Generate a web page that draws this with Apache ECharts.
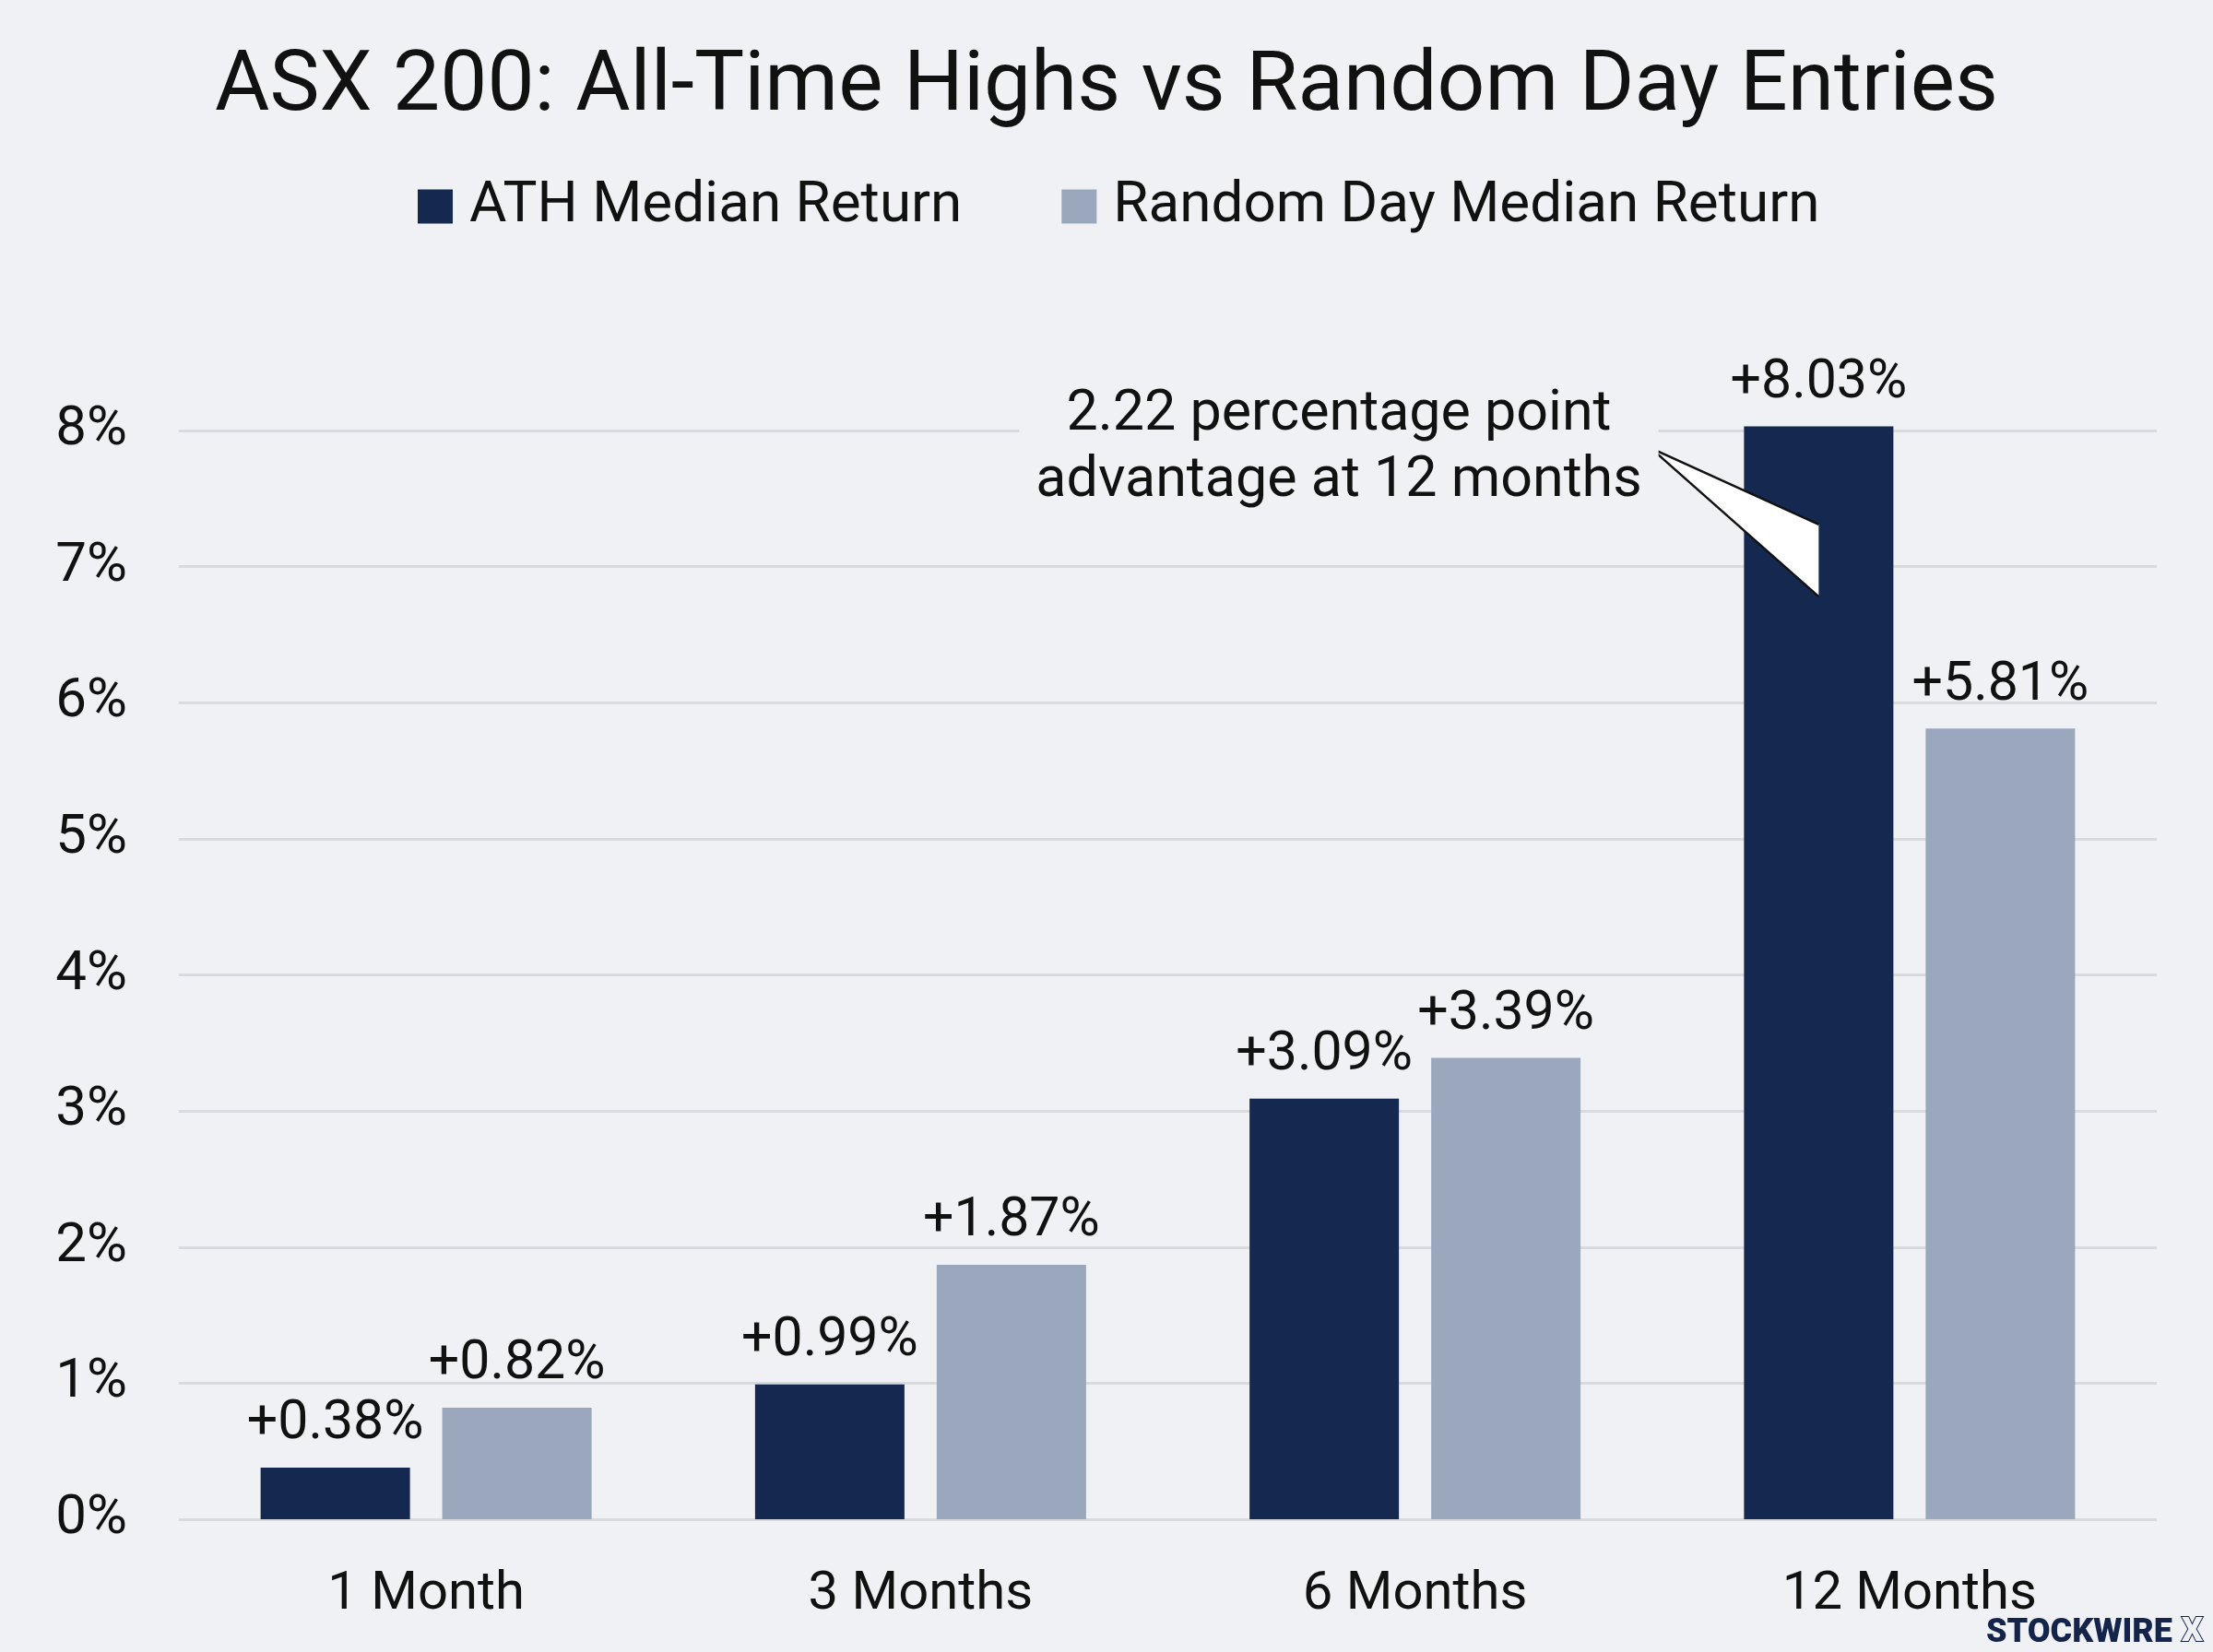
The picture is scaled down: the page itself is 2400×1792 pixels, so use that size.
<!DOCTYPE html>
<html>
<head>
<meta charset="utf-8">
<script src="https://cdn.jsdelivr.net/npm/echarts@6/dist/echarts.min.js"></script>
<style>
html,body{margin:0;padding:0;background:#f0f1f4;}
#chart{width:2400px;height:1792px;}
</style>
</head>
<body>
<div id="chart"></div>
<script>
const categories = ['1 Month', '3 Months', '6 Months', '12 Months'];
const athValues = [0.38, 0.99, 3.09, 8.03];
const randomValues = [0.82, 1.87, 3.39, 5.81];
const seriesNames = ['ATH Median Return', 'Random Day Median Return'];
const yTicks = [0, 1, 2, 3, 4, 5, 6, 7, 8];
const titleText = 'ASX 200: All-Time Highs vs Random Day Entries';
const annotationLines = ['2.22 percentage point', 'advantage at 12 months'];

const FONT = 'Roboto';
const NAVY = '#15284f';
const GREY = '#9ba7bd';
const BG = '#f0f1f4';

const chart = echarts.init(document.getElementById('chart'), null, {renderer: 'canvas'});

const labelOpt = {
  show: true,
  position: 'top',
  distance: 17,
  color: '#111',
  fontFamily: FONT,
  fontSize: 59,
  formatter: p => '+' + p.value.toFixed(2) + '%'
};

const option = {
  backgroundColor: BG,
  animation: false,
  title: {
    text: titleText,
    left: 'center',
    top: 51,
    padding: 0,
    textStyle: {fontFamily: FONT, fontSize: 91, fontWeight: 'normal', color: '#111'}
  },
  legend: {
    data: seriesNames,
    left: 453,
    top: 193,
    padding: 0,
    itemWidth: 38,
    itemHeight: 37,
    itemGap: 108,
    icon: 'rect',
    textStyle: {fontFamily: FONT, fontSize: 62, lineHeight: 37, color: '#111', padding: [0, 0, 0, 13]}
  },
  grid: {left: 194, right: 61, top: 467, bottom: 144, containLabel: false},
  xAxis: {
    type: 'category',
    data: categories,
    axisLine: {show: false},
    axisTick: {show: false},
    axisLabel: {fontFamily: FONT, fontSize: 58, color: '#111', margin: 53}
  },
  yAxis: {
    type: 'value',
    min: yTicks[0],
    max: yTicks[yTicks.length - 1],
    interval: 1,
    axisLine: {show: false},
    axisTick: {show: false},
    splitLine: {lineStyle: {color: '#d8dadf', width: 3}},
    axisLabel: {fontFamily: FONT, fontSize: 60, color: '#111', margin: 56, formatter: v => v + '%'}
  },
  series: [
    {
      name: seriesNames[0], type: 'bar', data: athValues, barWidth: 162, barGap: '21.6%',
      itemStyle: {color: NAVY}, label: labelOpt, clip: false, z: 2
    },
    {
      name: seriesNames[1], type: 'bar', data: randomValues, barWidth: 162,
      itemStyle: {color: GREY}, label: labelOpt, clip: false, z: 2
    }
  ]
};
chart.setOption(option);

// annotation anchored to the 12-month ATH bar via the axes
const catPx = chart.convertToPixel({xAxisIndex: 0}, categories[3]);
const barCenterX = catPx - (162 / 2 + 162 * 0.216 / 2);
const yTip = chart.convertToPixel({yAxisIndex: 0}, 7.87);
const yBaseTop = chart.convertToPixel({yAxisIndex: 0}, 7.31);
const yBaseBot = chart.convertToPixel({yAxisIndex: 0}, 6.78);
const tipX = barCenterX - 182;

chart.setOption({
  graphic: [
    {
      type: 'polygon', z: 10,
      shape: {points: [[tipX, yTip], [barCenterX, yBaseTop], [barCenterX, yBaseBot]]},
      style: {fill: '#ffffff'}
    },
    {
      type: 'polyline', z: 11,
      shape: {points: [[barCenterX, yBaseTop], [tipX, yTip], [barCenterX, yBaseBot]]},
      style: {stroke: '#111', lineWidth: 2.5, fill: null}
    },
    {
      type: 'text', z: 12,
      x: 1452, y: 487,
      style: {
        text: annotationLines.join('\n'),
        font: '61px ' + FONT,
        fill: '#111',
        align: 'center',
        verticalAlign: 'middle',
        lineHeight: 72,
        backgroundColor: BG,
        padding: [4, 18, 4, 18]
      }
    },
    {
      type: 'text', z: 12,
      right: 44, bottom: 2,
      style: {text: 'STOCKWIRE', font: '900 36px ' + FONT, fill: '#14244a'}
    },
    {
      type: 'text', z: 12,
      right: 10, bottom: 2,
      style: {text: 'X', font: '900 36px ' + FONT, fill: BG, stroke: '#14244a', lineWidth: 2}
    }
  ]
});
</script>
</body>
</html>
